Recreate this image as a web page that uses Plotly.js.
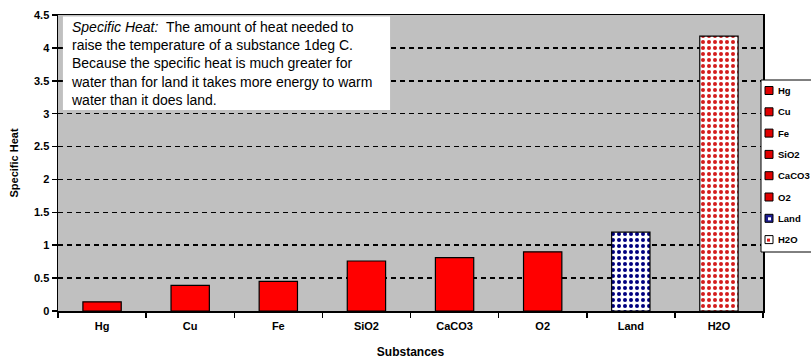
<!DOCTYPE html>
<html>
<head>
<meta charset="utf-8">
<script src="https://cdn.plot.ly/plotly-3.0.1.min.js"></script>
<style>
  html, body { margin: 0; padding: 0; background: #ffffff; overflow: hidden; }
  #chart { width: 811px; height: 359px; }
</style>
</head>
<body>
<div id="chart"></div>
<script>
// Specific heat of common substances (J/g per deg C)
const substances = ["Hg", "Cu", "Fe", "SiO2", "CaCO3", "O2", "Land", "H2O"];
const specificHeat = [0.14, 0.39, 0.45, 0.76, 0.81, 0.90, 1.20, 4.18];
const yTickValues = [0, 0.5, 1, 1.5, 2, 2.5, 3, 3.5, 4, 4.5];
const yTickLabels = ["0", "0.5", "1", "1.5", "2", "2.5", "3", "3.5", "4", "4.5"];

const noteText =
  "<i>Specific Heat:</i>  The amount of heat needed to<br>" +
  "raise the temperature of a substance 1deg C.<br>" +
  "Because the specific heat is much greater for<br>" +
  "water than for land it takes more energy to warm<br>" +
  "water than it does land.";

const FONT = "Arial, 'Liberation Sans', sans-serif";
const W = 811, H = 359;
const M = { l: 58, r: 48, t: 15, b: 48 };
const plotW = W - M.l - M.r, plotH = H - M.t - M.b;
// pixel position -> paper fraction
const px = x => (x - M.l) / plotW;
const py = y => (H - M.b - y) / plotH;

// fill style per substance: solid red, except the dotted Land and H2O bars
function markerFor(name) {
  const base = { line: { color: "#000000", width: 1.2 } };
  if (name === "Land") {
    return Object.assign(base, {
      color: "#000080",
      pattern: { shape: ".", bgcolor: "#ffffff", fgcolor: "#000080", size: 6, solidity: 0.35 }
    });
  }
  if (name === "H2O") {
    return Object.assign(base, {
      color: "#e01818",
      pattern: { shape: ".", bgcolor: "#ffffff", fgcolor: "#d41c1c", size: 6, solidity: 0.35 }
    });
  }
  return Object.assign(base, { color: "#ff0000" });
}

const traces = substances.map((name, i) => ({
  type: "bar",
  name: name,
  x: [name],
  y: [specificHeat[i]],
  marker: markerFor(name),
  showlegend: false,
  hoverinfo: "x+y"
}));

// compact key at the right edge: white box, one small swatch and label per substance
const legendLeft = 761, legendTop = 80, legendBottom = 252, rowStep = 21.3, firstRow = 90.5;
const shapes = [
  {
    type: "rect", xref: "paper", yref: "paper",
    x0: 0.007, x1: 0.471, y0: 0.679, y1: 0.995,
    fillcolor: "#ffffff", line: { width: 0 }, layer: "above"
  },
  {
    type: "rect", xref: "paper", yref: "paper",
    x0: px(legendLeft), x1: px(W + 5), y0: py(legendBottom), y1: py(legendTop),
    fillcolor: "#ffffff", line: { color: "#000000", width: 1 }, layer: "above"
  }
];
const annotations = [{
  xref: "paper", yref: "paper",
  x: 0.0156, y: 0.993,
  xanchor: "left", yanchor: "top",
  align: "left",
  showarrow: false,
  text: noteText,
  font: { family: FONT, size: 14, color: "#000000" }
}];

substances.forEach((name, i) => {
  const cy = firstRow + i * rowStep;
  let fill = "#e00000", edge = "#000000";
  if (name === "Land") fill = "#1c1c90";
  if (name === "H2O") fill = "#ffffff";
  shapes.push({
    type: "rect", xref: "paper", yref: "paper",
    x0: px(765), x1: px(773), y0: py(cy + 4), y1: py(cy - 4),
    fillcolor: fill, line: { color: edge, width: 1 }, layer: "above"
  });
  if (name === "H2O") {
    shapes.push({
      type: "rect", xref: "paper", yref: "paper",
      x0: px(767), x1: px(770), y0: py(cy + 2), y1: py(cy - 1),
      fillcolor: "#e01818", line: { width: 0 }, layer: "above"
    });
  }
  if (name === "Land") {
    shapes.push({
      type: "rect", xref: "paper", yref: "paper",
      x0: px(768), x1: px(771), y0: py(cy + 2), y1: py(cy - 1),
      fillcolor: "#ffffff", line: { width: 0 }, layer: "above"
    });
  }
  annotations.push({
    xref: "paper", yref: "paper",
    x: px(776), y: py(cy),
    xanchor: "left", yanchor: "middle",
    showarrow: false,
    text: name,
    font: { family: FONT, size: 9.5, weight: "bold", color: "#000000" }
  });
});

const layout = {
  width: W,
  height: H,
  margin: { l: M.l, r: M.r, t: M.t, b: M.b, autoexpand: false },
  paper_bgcolor: "#ffffff",
  plot_bgcolor: "#c0c0c0",
  barmode: "overlay",
  bargap: 0.565,
  showlegend: false,
  font: { family: FONT, color: "#000000", size: 11 },
  xaxis: {
    type: "category",
    categoryorder: "array",
    categoryarray: substances,
    showline: true,
    linecolor: "#000000",
    linewidth: 1.5,
    mirror: true,
    ticks: "outside",
    tickson: "boundaries",
    ticklen: 5,
    tickcolor: "#000000",
    tickwidth: 1.5,
    ticklabelstandoff: 4,
    showgrid: false,
    tickfont: { family: FONT, size: 11, weight: "bold" },
    title: { text: "Substances", font: { family: FONT, size: 12, weight: "bold" }, standoff: 18 }
  },
  yaxis: {
    range: [0, 4.5],
    tickvals: yTickValues,
    ticktext: yTickLabels,
    showline: true,
    linecolor: "#000000",
    linewidth: 1.5,
    mirror: true,
    ticks: "outside",
    ticklen: 5,
    tickcolor: "#000000",
    tickwidth: 1.5,
    showgrid: true,
    gridcolor: "#000000",
    gridwidth: 1.5,
    griddash: "5px,4px",
    zeroline: false,
    tickfont: { family: FONT, size: 11, weight: "bold" },
    title: { text: "Specific Heat", font: { family: FONT, size: 11, weight: "bold" }, standoff: 13 }
  },
  shapes: shapes,
  annotations: annotations
};

Plotly.newPlot("chart", traces, layout, { displayModeBar: false, staticPlot: true });
</script>
</body>
</html>
